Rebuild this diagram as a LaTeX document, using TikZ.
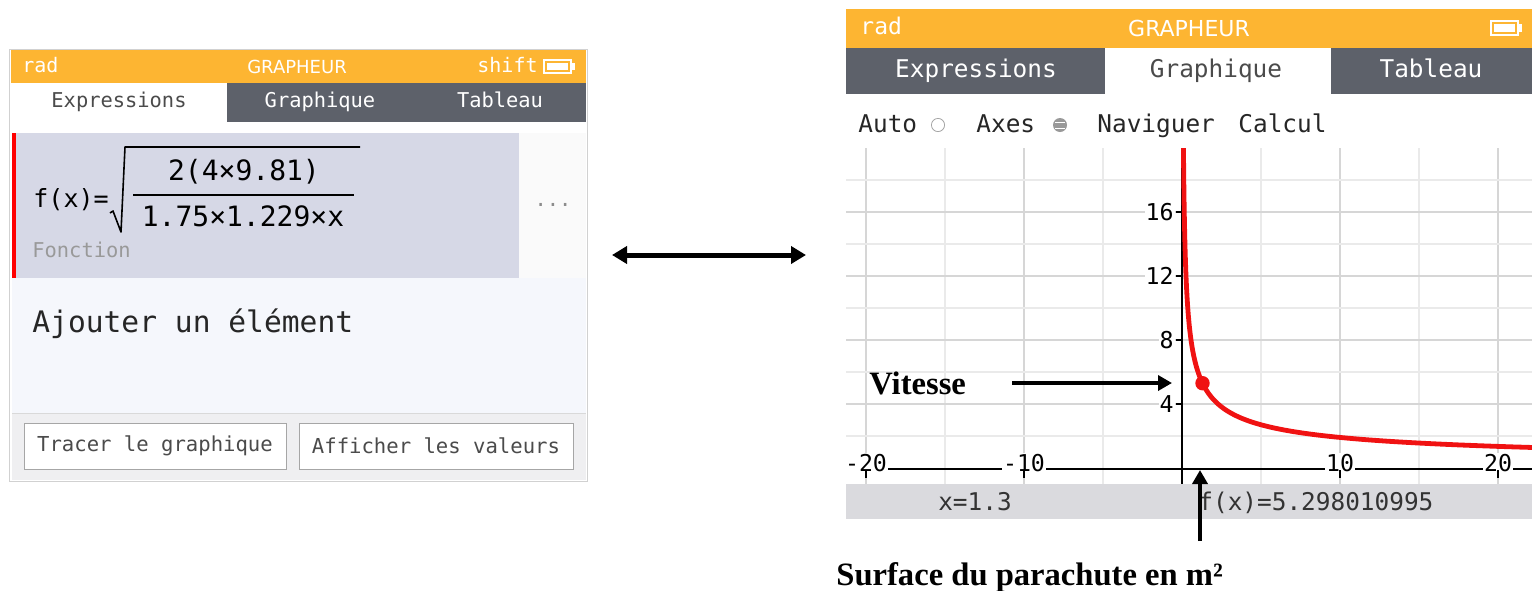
\documentclass[tikz,border=0pt]{standalone}
\usepackage{fontspec}
\setmainfont{Liberation Serif}
\setsansfont{DejaVu Sans}
\setmonofont{DejaVu Sans Mono}
\usetikzlibrary{arrows.meta}

\definecolor{calcorange}{RGB}{253,181,50}
\definecolor{tabdark}{RGB}{93,97,106}
\definecolor{rowlav}{RGB}{214,216,230}
\definecolor{addbg}{RGB}{245,247,252}
\definecolor{stripbg}{RGB}{239,239,241}
\definecolor{barbg}{RGB}{218,218,222}
\definecolor{gridmaj}{RGB}{214,214,214}
\definecolor{gridmin}{RGB}{234,234,234}
\definecolor{curvered}{RGB}{240,18,18}
\definecolor{txtgray}{RGB}{75,75,75}

\begin{document}
\begin{tikzpicture}[x=0.5pt, y=-0.5pt]
        \tikzstyle{hdrmono}=[font=\ttfamily\fontsize{10}{12}\selectfont, text=white, inner sep=0pt]
        \tikzstyle{hdrsans}=[font=\sffamily\fontsize{9}{11}\selectfont, text=white, inner sep=0pt]
        \tikzstyle{tabsmall}=[font=\ttfamily\fontsize{10.2}{12}\selectfont, inner sep=0pt]
        \tikzstyle{tabbig}=[font=\ttfamily\fontsize{12.2}{14}\selectfont, inner sep=0pt]
        \tikzstyle{formula}=[font=\ttfamily\fontsize{14}{16}\selectfont, inner sep=0pt]
        \tikzstyle{btn}=[font=\ttfamily\fontsize{10.3}{12}\selectfont, text=txtgray, fill=white, draw=black!35, minimum width=131pt, minimum height=23pt, inner sep=0pt]
        \tikzstyle{ticklab}=[font=\ttfamily\fontsize{11.6}{13}\selectfont, fill=white, inner sep=0.5pt]
        \tikzstyle{annot}=[font=\rmfamily\bfseries\fontsize{16.3}{18}\selectfont, inner sep=0pt]
        \tikzstyle{bigarrow}=[line width=2pt, arrows={-Triangle[length=7pt, width=7.5pt]}]
        \tikzstyle{dblarrow}=[line width=2.5pt, arrows={Triangle[length=7.5pt, width=8.5pt]-Triangle[length=7.5pt, width=8.5pt]}]
        \useasboundingbox (0,0) rectangle (1532,590);

        % draw the left screen (expressions)
        \draw[black!18, fill=white] (9,49) rectangle (587,481);
        \fill[calcorange] (11,50) rectangle (586,83);
        \node[hdrmono, anchor=base west] at (22,72) (lrad) {rad};
        \node[hdrsans, anchor=base] at (297,73) (ltitle) {GRAPHEUR};
        \node[hdrmono, anchor=base east] at (538,72) (lshift) {shift};
        \draw[white, line width=0.6pt] (544,60) rectangle (571,73);
        \fill[white] (547,63) rectangle (568,70);
        \fill[white] (571,63) rectangle (575,70);

        \fill[tabdark] (227,83) rectangle (586,122);
        \node[tabsmall, anchor=base, text=txtgray] at (119,107) (ltabexp) {Expressions};
        \node[tabsmall, anchor=base, text=white] at (320,107) (ltabgra) {Graphique};
        \node[tabsmall, anchor=base, text=white] at (500,107) (ltabtab) {Tableau};

        % the function row
        \fill[rowlav] (12,133) rectangle (519,278);
        \fill[black!2] (519,133) rectangle (586,278);
        \fill[red] (12,133) rectangle (16,278);
        \node[formula, anchor=base west, font=\ttfamily\fontsize{12.5}{14}\selectfont] at (33,207) (fx) {f(x)=};
        \node[formula] at (244,172) (num) {2(4×9.81)};
        \node[formula] at (243,216) (den) {1.75×1.229×x};
        \draw[line width=0.8pt] (133,195) -- (354,195);
        \draw[line width=0.8pt, line join=round] (110,213) -- (113,211) -- (121,232) -- (125,147) -- (360,147);
        \node[tabsmall, anchor=base west, text=black!40] at (32,257) (fonction) {Fonction};
        \node[tabsmall, text=black!45] at (553,205) (ldots) {...};

        % add element zone and buttons
        \fill[addbg] (12,278) rectangle (586,413);
        \node[formula, anchor=base west, font=\ttfamily\fontsize{14.8}{17}\selectfont, text=black!85] at (32,332) (ajouter) {Ajouter un élément};
        \fill[stripbg] (12,413) rectangle (586,480);
        \draw[black!15] (12,413) -- (586,413);
        \node[btn] at (155,446) (btntrace) {Tracer le graphique};
        \node[btn, minimum width=137pt] at (436,446) (btnval) {Afficher les valeurs};

        % the double arrow in between both screens
        \coordinate (dblL) at (612,255);
        \coordinate (dblR) at (806,255);
        \draw[dblarrow] (dblL) -- (dblR);

        % draw the right screen (graph)
        \fill[calcorange] (846,9) rectangle (1532,48);
        \node[hdrmono, anchor=base west, font=\ttfamily\fontsize{11.5}{13}\selectfont] at (860,34) (rrad) {rad};
        \node[hdrsans, anchor=base, font=\sffamily\fontsize{11}{13}\selectfont] at (1189,36) (rtitle) {GRAPHEUR};
        \draw[white, line width=0.6pt] (1491,21) rectangle (1518,35);
        \fill[white] (1494,24) rectangle (1515,32);
        \fill[white] (1518,24) rectangle (1522,32);

        \fill[tabdark] (846,48) rectangle (1532,94);
        \fill[white] (1105,48) rectangle (1331,94);
        \node[tabbig, anchor=base, text=white] at (976,77) (rtabexp) {Expressions};
        \node[tabbig, anchor=base, text=txtgray] at (1216,77) (rtabgra) {Graphique};
        \node[tabbig, anchor=base, text=white] at (1431,77) (rtabtab) {Tableau};

        \node[tabbig, anchor=base west, text=black!85] at (858,132) (auto) {Auto};
        \draw[black!35] (938,125) circle[radius=3.3pt];
        \node[tabbig, anchor=base west, text=black!85] at (976,132) (axes) {Axes};
        \fill[black!40] (1060,125) circle[radius=3.5pt];
        \draw[white, line width=0.5pt] (1055,122) -- (1065,122) (1055,128) -- (1065,128);
        \node[tabbig, anchor=base west, text=black!85] at (1097,132) (nav) {Naviguer};
        \node[tabbig, anchor=base west, text=black!85] at (1238,132) (calc) {Calcul};

        % grid of the graph
        \foreach \k in {-15,-5,5,15}
            \draw[gridmin, line width=0.6pt] ({1182+15.8*\k},148) -- ({1182+15.8*\k},484);
        \foreach \k in {-20,-10,10,20}
            \draw[gridmaj, line width=0.6pt] ({1182+15.8*\k},148) -- ({1182+15.8*\k},484);
        \foreach \v in {2,6,10,14,18}
            \draw[gridmin, line width=0.6pt] (846,{468-16*\v}) -- (1532,{468-16*\v});
        \foreach \v in {4,8,12,16}
            \draw[gridmaj, line width=0.6pt] (846,{468-16*\v}) -- (1532,{468-16*\v});

        % axes with their labels
        \draw[black, line width=0.6pt] (846,469) -- (1532,469);
        \draw[black, line width=0.6pt] (1182,148) -- (1182,484);
        \foreach \v in {4,8,12,16} {
            \node[ticklab, anchor=east] at (1175,{468-16*\v}) (ylab\v) {\v};
            \draw[black, line width=0.6pt] (1176,{468-16*\v}) -- (1182,{468-16*\v});
        }
        \foreach \k in {-20,-10,10,20} {
            \node[ticklab, anchor=south] at ({1182+15.8*\k},473) (xlab\k) {\k};
            \draw[black, line width=0.6pt] ({1182+15.8*\k},470) -- ({1182+15.8*\k},478);
        }

        % the curve and the point at x=1.3
        \begin{scope}
            \clip (846,148) rectangle (1532,484);
            \draw[curvered, line width=2.4pt] plot[domain=-2.4:3.15, samples=160] ({1182+15.8*exp(\x)},{468-16*6.0407*exp(-\x/2)});
        \end{scope}
        \fill[curvered] (1202.5,383.2) circle[radius=3.6pt] coordinate (pt);

        % bottom bar with the values
        \fill[barbg] (846,484) rectangle (1532,519);
        \node[tabbig, anchor=base, text=black!80] at (975,510) (xval) {x=1.3};
        \node[tabbig, anchor=base west, text=black!80] at (1198,510) (fval) {f(x)=5.298010995};

        % the two labels with their arrows
        \node[annot, anchor=west] at (869,383) (vit) {Vitesse};
        \coordinate (vitend) at (1172,383);
        \draw[bigarrow] ([xshift=23pt]vit.east) -- (vitend);
        \node[annot, anchor=west] at (836,577) (surf) {Surface du parachute en m²};
        \coordinate (surfstart) at (1200,541);
        \coordinate (xpt) at (1200,470);
        \draw[bigarrow] (surfstart) -- (xpt);
    \end{tikzpicture}
\end{document}
